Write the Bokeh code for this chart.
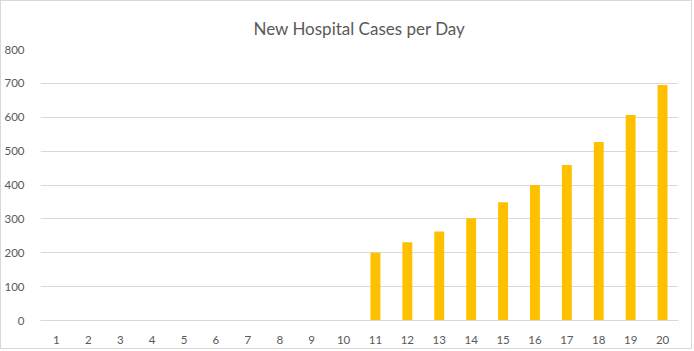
from bokeh.plotting import figure
from bokeh.models import Range1d, FixedTicker, ColumnDataSource
from bokeh.embed import file_html
from bokeh.resources import INLINE

days = ["1", "2", "3", "4", "5", "6", "7", "8", "9", "10",
        "11", "12", "13", "14", "15", "16", "17", "18", "19", "20"]
cases = [0, 0, 0, 0, 0, 0, 0, 0, 0, 0,
         200, 231, 263, 302, 349, 400, 459, 527, 607, 695]
y_ticks = [0, 100, 200, 300, 400, 500, 600, 700, 800]

src = ColumnDataSource(data=dict(day=days, cases=cases))

p = figure(x_range=days, y_range=Range1d(0, 800), width=692, height=349,
           output_backend="svg", toolbar_location=None,
           min_border_left=35, min_border_right=15, min_border_top=48, min_border_bottom=30,
           title="New Hospital Cases per Day")
p.styles = {"border": "1px solid #d9d9d9"}

p.vbar(x="day", top="cases", width=0.31, source=src, color="#FFC000", line_color=None)

p.title.align = "center"
p.title.text_font = "Lato"
p.title.text_font_size = "17px"
p.title.text_font_style = "normal"
p.title.text_color = "#595959"
p.title.standoff = 21

p.outline_line_color = None
p.xgrid.grid_line_color = None
p.ygrid.grid_line_color = "#d9d9d9"
p.ygrid.grid_line_width = 1

p.yaxis.ticker = FixedTicker(ticks=y_ticks)
p.yaxis.axis_line_color = None
p.yaxis.major_tick_line_color = None
p.yaxis.minor_tick_line_color = None
p.yaxis.major_label_text_font = "Lato"
p.yaxis.major_label_text_font_size = "11.5px"
p.yaxis.major_label_text_color = "#595959"
p.yaxis.major_label_standoff = 10

p.xaxis.axis_line_color = "#d9d9d9"
p.xaxis.major_tick_line_color = None
p.xaxis.minor_tick_line_color = None
p.xaxis.major_label_text_font = "Lato"
p.xaxis.major_label_text_font_size = "11.5px"
p.xaxis.major_label_text_color = "#595959"
p.xaxis.major_label_standoff = 9

open("out.html", "w").write(file_html(p, INLINE))
